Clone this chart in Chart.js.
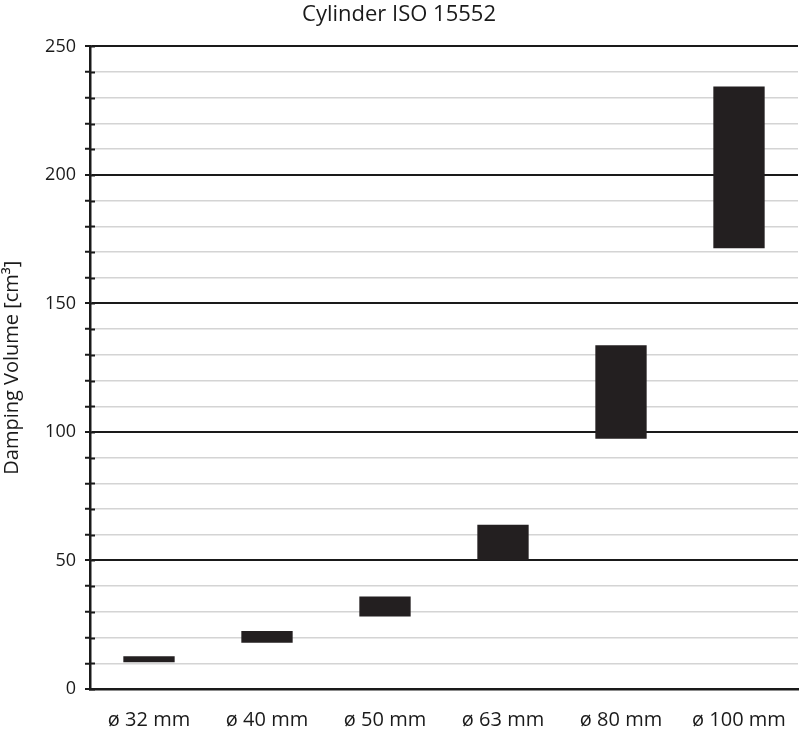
<!DOCTYPE html>
<html>
<head>
<meta charset="utf-8">
<script src="https://cdn.jsdelivr.net/npm/chart.js@4.4.1/dist/chart.umd.min.js"></script>
<style>
  html, body { margin: 0; padding: 0; background: #fff; }
  #wrap { width: 800px; height: 735px; }
</style>
</head>
<body>
<div id="wrap"><canvas id="grafico"></canvas></div>
<script>
const categorias = ['ø 32 mm', 'ø 40 mm', 'ø 50 mm', 'ø 63 mm', 'ø 80 mm', 'ø 100 mm']
const volumeMin = [10.4, 18.0, 28.2, 50.1, 97.4, 171.5]
const volumeMax = [12.7, 22.6, 36.0, 63.9, 133.7, 234.4]
const ticksRotulados = [0, 50, 100, 150, 200, 250]

const fonte = '"Open Sans", "Noto Sans", sans-serif'

// small tick stubs on the inner side of the y axis
const ticksInternos = {
  id: 'ticksInternos',
  afterDraw(chart) {
    const y = chart.scales.y
    const ctx = chart.ctx
    ctx.save()
    ctx.strokeStyle = '#1a1a1a'
    ctx.lineWidth = 2
    y.ticks.forEach(t => {
      const py = Math.round(y.getPixelForValue(t.value)) + 0.5
      ctx.beginPath()
      ctx.moveTo(y.right - 1, py)
      ctx.lineTo(y.right + 5, py)
      ctx.stroke()
    })
    ctx.restore()
  }
}

const ctx = document.getElementById('grafico').getContext('2d')
new Chart(ctx, {
  type: 'bar',
  data: {
    labels: categorias,
    datasets: [{
      label: 'Damping Volume',
      data: categorias.map((c, i) => [volumeMin[i], volumeMax[i]]),
      backgroundColor: '#231f20',
      borderWidth: 0,
      categoryPercentage: 1,
      barPercentage: 0.435,
    }]
  },
  options: {
    responsive: true,
    maintainAspectRatio: false,
    animation: false,
    layout: { padding: { left: 0, right: 2, top: 0, bottom: 0 } },
    plugins: {
      legend: { display: false },
      tooltip: { enabled: false },
      title: {
        display: true,
        text: 'Cylinder ISO 15552',
        color: '#1a1a1a',
        font: { family: fonte, size: 22, weight: 'normal' },
        padding: { top: 2, bottom: 18 },
      },
    },
    scales: {
      x: {
        afterFit: s => { s.height = 46 },
        grid: { display: false, drawTicks: false },
        border: { display: true, color: '#1a1a1a', width: 2.5 },
        ticks: {
          color: '#1a1a1a',
          font: { family: fonte, size: 20, lineHeight: 2.8 },
          padding: 3,
        },
      },
      y: {
        min: 0,
        max: 250,
        afterFit: s => { s.width = 90 },
        border: { display: true, color: '#1a1a1a', width: 2.5 },
        grid: {
          color: ctx => (ctx.tick && ctx.tick.value % 50 === 0) ? '#1a1a1a' : '#d4d4d4',
          lineWidth: ctx => (ctx.tick && ctx.tick.value % 50 === 0) ? 2 : 1.5,
          tickColor: '#1a1a1a',
          tickLength: 5,
          tickWidth: 2,
        },
        ticks: {
          stepSize: 10,
          autoSkip: false,
          color: '#1a1a1a',
          font: { family: fonte, size: 18 },
          padding: 9,
          callback: v => ticksRotulados.includes(v) ? String(v) : '',
        },
        title: {
          display: true,
          text: 'Damping Volume [cm³]',
          color: '#1a1a1a',
          font: { family: fonte, size: 20 },
          padding: { top: 0, bottom: 14 },
        },
      },
    },
  },
  plugins: [ticksInternos],
})
</script>
</body>
</html>
